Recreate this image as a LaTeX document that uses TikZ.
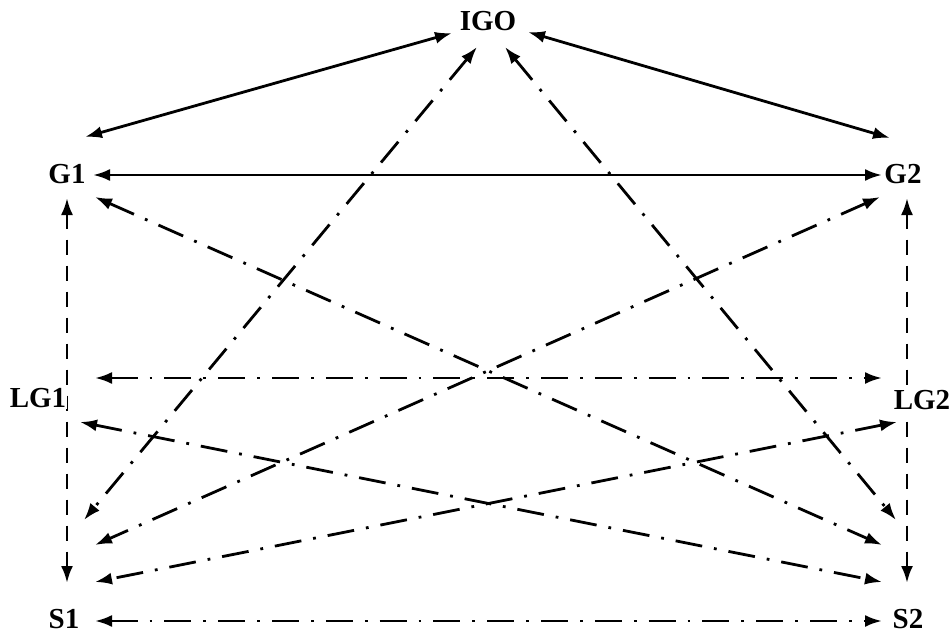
\documentclass[tikz,border=0pt]{standalone}
\usepackage{fontspec}
\setmainfont{Liberation Serif}
\usetikzlibrary{arrows.meta}
\begin{document}
\begin{tikzpicture}[x=1pt,y=-1pt,
  lbl/.style={font=\fontsize{29}{31}\selectfont\bfseries, inner sep=1pt, fill=white},
  conn/.style={line width=2.8pt, {Latex[length=17pt,width=12pt]}-{Latex[length=17pt,width=12pt]}},
  solidc/.style={conn},
  dashdotc/.style={conn, dash pattern=on 27pt off 12pt on 2.8pt off 12pt},
  dashc/.style={conn, dash pattern=on 15pt off 11pt}]
\useasboundingbox (0,0) rectangle (951,635);
% end points
\coordinate (igoL) at (452,33);
\coordinate (igoR) at (528,32);
\coordinate (igoA) at (477,47);
\coordinate (igoB) at (505,47);
\coordinate (g1top) at (85,137);
\coordinate (g2top) at (890,138);
\coordinate (g1e) at (93,175);
\coordinate (g2w) at (882,175);
\coordinate (g1s) at (67,198);
\coordinate (s1n) at (67,583);
\coordinate (g2s) at (907,198);
\coordinate (s2n) at (907,583);
\coordinate (aEnd) at (84,520);
\coordinate (bEnd) at (896,520);
\coordinate (g1se) at (95,197);
\coordinate (cEnd) at (882,545);
\coordinate (g2sw) at (880,197);
\coordinate (dEnd) at (95,545);
\coordinate (lg1e) at (95,378);
\coordinate (lg2w) at (882,378);
\coordinate (lg1se) at (80,422);
\coordinate (fEnd) at (882,582);
\coordinate (lg2sw) at (897,422);
\coordinate (gEnd) at (95,582);
\coordinate (s1e) at (95,621);
\coordinate (s2w) at (882,621);
% connectors
\draw[solidc] (igoL) -- (g1top);
\draw[solidc] (igoR) -- (g2top);
\draw[solidc] (g1e) -- (g2w);
\draw[dashc] (g1s) -- (s1n);
\draw[dashc] (g2s) -- (s2n);
\draw[dashdotc] (igoA) -- (aEnd);
\draw[dashdotc] (igoB) -- (bEnd);
\draw[dashdotc] (g1se) -- (cEnd);
\draw[dashdotc] (g2sw) -- (dEnd);
\draw[dashdotc] (lg1e) -- (lg2w);
\draw[dashdotc] (lg1se) -- (fEnd);
\draw[dashdotc] (lg2sw) -- (gEnd);
\draw[dashdotc] (s1e) -- (s2w);
% labels
\node[lbl] (IGO) at (488,21) {IGO};
\node[lbl] (G1) at (67,174) {G1};
\node[lbl] (G2) at (903,174) {G2};
\node[lbl] (LG1) at (38,398) {LG1};
\node[lbl] (LG2) at (922,400) {LG2};
\node[lbl] (S1) at (64,619) {S1};
\node[lbl] (S2) at (908,619) {S2};
\end{tikzpicture}
\end{document}
